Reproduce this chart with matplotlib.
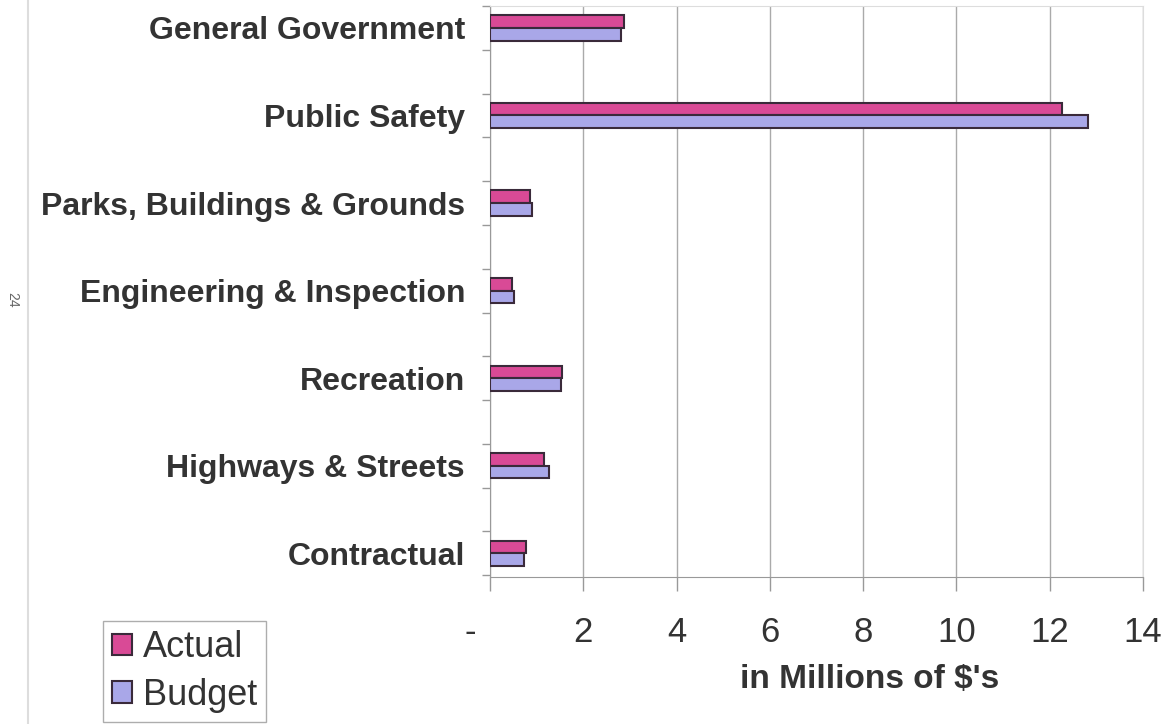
import matplotlib.pyplot as plt
import numpy as np

plt.rcParams['font.family'] = ['Liberation Sans', 'DejaVu Sans']

categories = ["General Government", "Public Safety", "Parks, Buildings & Grounds",
              "Engineering & Inspection", "Recreation", "Highways & Streets", "Contractual"]
actual = [2.88, 12.26, 0.86, 0.47, 1.55, 1.16, 0.77]
budget = [2.80, 12.82, 0.90, 0.52, 1.53, 1.27, 0.73]
xticks = [0, 2, 4, 6, 8, 10, 12, 14]
xticklabels = ["-    ", "2", "4", "6", "8", "10", "12", "14"]

pink = '#d94a96'
lav = '#a9a7e8'
edge = '#3a2a3a'

fig = plt.figure(figsize=(11.67, 7.24), dpi=100)
ax = fig.add_axes([490/1167, 1-577/724, (1143-490)/1167, (577-6)/724])

y = np.arange(len(categories))
h = 0.145
ax.barh(y - h/2, actual, height=h, color=pink, edgecolor=edge, linewidth=1.5, label='Actual', zorder=3)
ax.barh(y + h/2, budget, height=h, color=lav, edgecolor=edge, linewidth=1.5, label='Budget', zorder=3)

ax.set_xlim(0, 14)
ax.set_ylim(6.27, -0.25)
ax.set_xticks(xticks)
ax.set_xticklabels(xticklabels, fontsize=25, color='#333333')
ax.tick_params(axis='x', length=10, width=1, color='#999999', pad=18)
ax.set_yticks(y)
ax.set_yticklabels(categories, fontsize=23, fontweight='bold', color='#333333')
ax.tick_params(axis='y', length=0, pad=18)
ax.set_yticks(np.arange(-0.25, 6.3, 0.5), minor=True)
ax.tick_params(axis='y', which='minor', length=6, width=1, color='#999999')

ax.grid(axis='x', color='#aaaaaa', linewidth=1, zorder=0)
for s in ['top', 'right']:
    ax.spines[s].set_color('#dddddd')
for s in ['left', 'bottom']:
    ax.spines[s].set_color('#999999')

ax.set_xlabel("in Millions of $'s", fontsize=24, fontweight='bold', color='#333333')
ax.xaxis.set_label_coords(0.582, -0.18)
ax.xaxis.label.set_va('center')

leg = fig.legend(loc='lower left', bbox_to_anchor=(103/1167, 2/724), fontsize=26, frameon=True,
                 fancybox=False, edgecolor='#999999', handlelength=0.55, handleheight=0.55,
                 handletextpad=0.3, borderpad=0.25, labelspacing=0.35, borderaxespad=0)
for t in leg.get_texts():
    t.set_color('#333333')

fig.text(12/1167, 1-300/724, "24", rotation=270, fontsize=10, color='#666666', ha='center', va='center')
fig.add_artist(plt.Line2D([28/1167, 28/1167], [0, 1], color='#dddddd', linewidth=1.5))

fig.savefig('out.png', dpi=100)
